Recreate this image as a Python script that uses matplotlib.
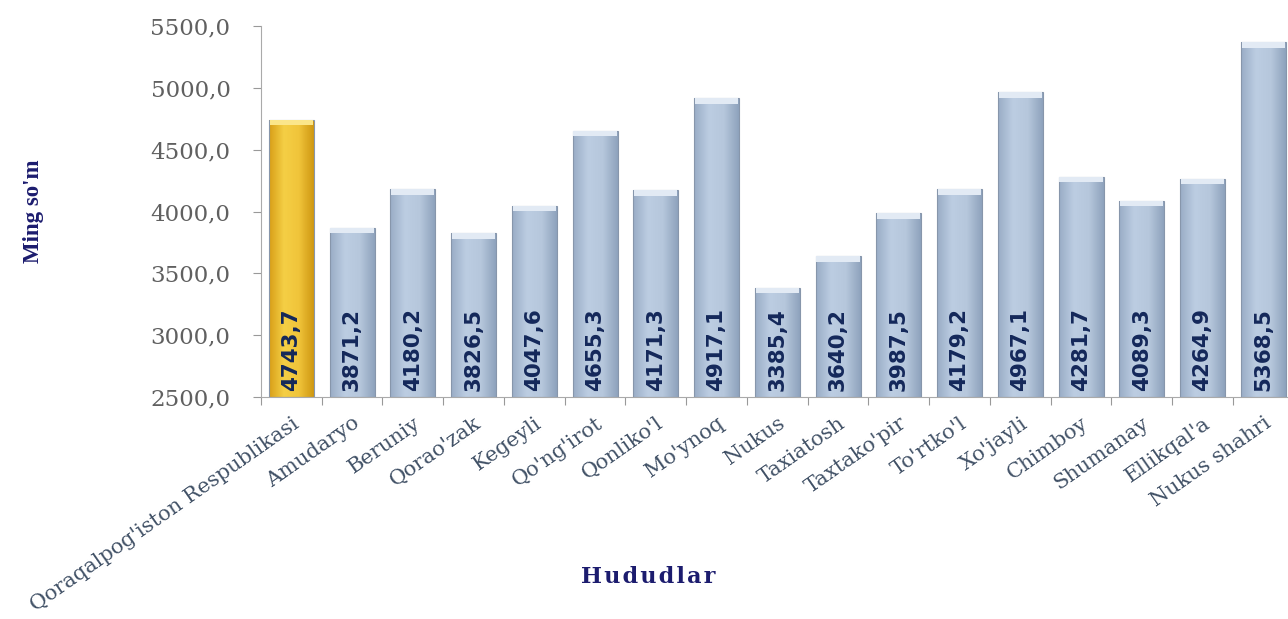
import numpy as np
import matplotlib
matplotlib.use("Agg")
import matplotlib.pyplot as plt
from matplotlib.colors import LinearSegmentedColormap

# -----------------------------
# Data
# -----------------------------
regions = ["Qoraqalpog'iston Respublikasi", "Amudaryo", "Beruniy", "Qorao'zak",
           "Kegeyli", "Qo'ng'irot", "Qonliko'l", "Mo'ynoq", "Nukus", "Taxiatosh",
           "Taxtako'pir", "To'rtko'l", "Xo'jayli", "Chimboy", "Shumanay",
           "Ellikqal'a", "Nukus shahri"]
values = [4743.7, 3871.2, 4180.2, 3826.5, 4047.6, 4655.3, 4171.3, 4917.1, 3385.4,
          3640.2, 3987.5, 4179.2, 4967.1, 4281.7, 4089.3, 4264.9, 5368.5]
y_ticks = [2500, 3000, 3500, 4000, 4500, 5000, 5500]

# -----------------------------
# Style
# -----------------------------
bar_width = 0.74
blue_cmap = LinearSegmentedColormap.from_list("b", ["#9aadc6", "#bccde2", "#b6c7dc", "#8fa3bd"])
gold_cmap = LinearSegmentedColormap.from_list("g", ["#d89f18", "#f5cf45", "#f0c43a", "#cf9812"])
navy = "#1c1c6e"

fig = plt.figure(figsize=(12.88, 6.19), dpi=100)
ax = fig.add_axes([0.2026, 0.3586, 0.8018, 0.599])

x = np.arange(len(regions))
ymin, ymax = y_ticks[0], y_ticks[-1]
grad = np.linspace(0, 1, 64).reshape(1, -1)

bars = ax.bar(x, np.array(values) - ymin, bottom=ymin, width=bar_width,
              color="none", edgecolor="#8796ab", linewidth=0.8, zorder=3)
for i, (b, v) in enumerate(zip(bars, values)):
    cmap = gold_cmap if i == 0 else blue_cmap
    x0 = b.get_x()
    im = ax.imshow(grad, cmap=cmap, aspect="auto", zorder=2,
                   extent=(x0, x0 + bar_width, ymin, v))
    im.set_clip_path(b)
    # lighter top cap
    cap = "#fbe68a" if i == 0 else "#e2eaf4"
    ax.bar(x[i], 45, bottom=v - 45, width=bar_width * 0.96, color=cap,
           edgecolor="none", zorder=4)
    ax.text(x[i], ymin + 45, f"{v:.1f}".replace(".", ","), rotation=90,
            ha="center", va="bottom", fontsize=15.5, fontweight="bold",
            color="#14285a", family=["DejaVu Sans"], zorder=5)

ax.set_xlim(-0.5, len(regions) - 0.5)
ax.set_ylim(ymin, ymax)
ax.set_yticks(y_ticks)
ax.set_yticklabels([f"{t:.1f}".replace(".", ",") for t in y_ticks],
                   fontsize=16.5, color="#606060", family="DejaVu Serif")
ax.tick_params(axis="y", length=6, color="#999999", pad=16)

# x ticks at category boundaries, labels at centers
ax.set_xticks(np.arange(len(regions) + 1) - 0.5)
ax.set_xticklabels([])
ax.tick_params(axis="x", length=6, color="#999999")
ax.set_xticks(x, minor=True)
ax.set_xticklabels(regions, minor=True, rotation=35, ha="right",
                   rotation_mode="anchor", fontsize=15, color="#415166",
                   family="DejaVu Serif")
ax.tick_params(axis="x", which="minor", length=0, pad=12)

for s in ["top", "right"]:
    ax.spines[s].set_visible(False)
ax.spines["left"].set_color("#aaaaaa")
ax.spines["bottom"].set_color("#aaaaaa")

fig.text(0.026, 0.658, "Ming so'm", rotation=90, ha="center", va="center",
         fontsize=16.5, fontweight="bold", color=navy, family="Liberation Serif")
fig.text(0.503, 0.068, "\u200a".join("Hududlar"), ha="center", va="center",
         fontsize=16, fontweight="bold", color=navy, family="DejaVu Serif")

fig.savefig("out.png", dpi=100)
